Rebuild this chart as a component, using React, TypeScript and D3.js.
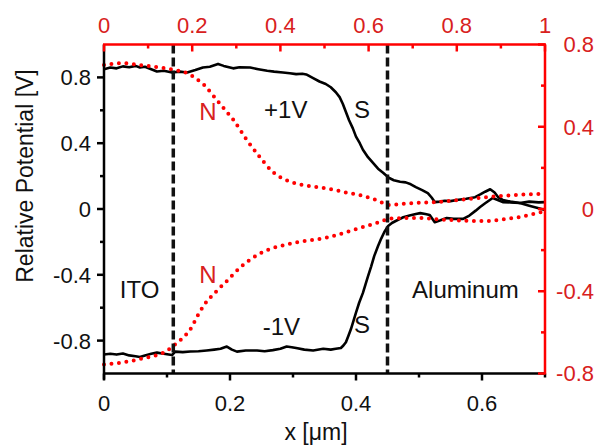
import React from "react";
import * as d3 from "d3";

// ---- data ----
const plusOneV: [number, number][] = [
  [0, 0.85], [0.01, 0.86], [0.02, 0.855], [0.03, 0.867], [0.04, 0.862], [0.05, 0.87], [0.057, 0.86],
  [0.065, 0.865], [0.075, 0.85], [0.084, 0.836], [0.095, 0.84], [0.108, 0.83], [0.12, 0.835], [0.132, 0.83],
  [0.145, 0.845], [0.157, 0.86], [0.168, 0.865], [0.181, 0.882], [0.19, 0.87], [0.205, 0.855], [0.215, 0.862],
  [0.232, 0.86], [0.245, 0.85], [0.259, 0.84], [0.27, 0.835], [0.284, 0.83], [0.295, 0.825], [0.305, 0.82],
  [0.315, 0.822], [0.321, 0.818], [0.332, 0.795], [0.342, 0.775], [0.352, 0.76], [0.36, 0.74], [0.368, 0.71],
  [0.374, 0.68], [0.379, 0.64], [0.384, 0.59], [0.389, 0.54], [0.395, 0.49], [0.4, 0.44], [0.406, 0.4],
  [0.411, 0.36], [0.419, 0.315], [0.427, 0.28], [0.435, 0.245], [0.443, 0.22], [0.452, 0.19], [0.46, 0.175],
  [0.47, 0.166], [0.479, 0.162], [0.487, 0.15], [0.495, 0.133], [0.505, 0.115], [0.514, 0.097], [0.52, 0.07],
  [0.525, 0.042], [0.533, 0.045], [0.541, 0.05], [0.55, 0.048], [0.56, 0.055], [0.575, 0.062], [0.589, 0.072],
  [0.598, 0.09], [0.605, 0.105], [0.613, 0.12], [0.62, 0.1], [0.626, 0.07], [0.633, 0.055], [0.645, 0.045],
  [0.66, 0.036], [0.675, 0.045], [0.69, 0.04], [0.7, 0.042],
];

const minusOneV: [number, number][] = [
  [0, -0.885], [0.01, -0.88], [0.02, -0.885], [0.03, -0.878], [0.04, -0.89], [0.05, -0.895], [0.057, -0.9],
  [0.065, -0.89], [0.075, -0.88], [0.084, -0.873], [0.095, -0.88], [0.108, -0.888], [0.113, -0.867],
  [0.125, -0.87], [0.137, -0.866], [0.15, -0.865], [0.163, -0.86], [0.175, -0.855], [0.185, -0.85],
  [0.195, -0.836], [0.203, -0.855], [0.211, -0.867], [0.225, -0.86], [0.243, -0.86], [0.255, -0.865],
  [0.268, -0.858], [0.28, -0.85], [0.29, -0.836], [0.298, -0.84], [0.305, -0.845], [0.318, -0.855],
  [0.332, -0.86], [0.348, -0.85], [0.36, -0.855], [0.368, -0.85], [0.376, -0.845], [0.38, -0.83],
  [0.384, -0.81], [0.388, -0.77], [0.392, -0.73], [0.396, -0.68], [0.4, -0.63], [0.405, -0.57], [0.411, -0.51],
  [0.415, -0.46], [0.419, -0.41], [0.424, -0.35], [0.429, -0.285], [0.435, -0.225], [0.44, -0.18],
  [0.445, -0.14], [0.451, -0.103], [0.457, -0.085], [0.463, -0.073], [0.47, -0.06], [0.475, -0.05],
  [0.485, -0.04], [0.495, -0.03], [0.502, -0.025], [0.51, -0.03], [0.517, -0.036], [0.525, -0.08],
  [0.533, -0.07], [0.544, -0.055], [0.555, -0.06], [0.57, -0.06], [0.58, -0.04], [0.59, -0.01], [0.597, 0.012],
  [0.605, 0.035], [0.617, 0.067], [0.625, 0.055], [0.633, 0.042], [0.645, 0.04], [0.66, 0.036], [0.675, 0.02],
  [0.69, 0.005], [0.7, -0.006],
];

const nPlus: [number, number][] = [
  [0, 0.7], [0.03, 0.71], [0.057, 0.7], [0.084, 0.69], [0.11, 0.677], [0.132, 0.66], [0.148, 0.63], [0.16, 0.6],
  [0.171, 0.56], [0.179, 0.53], [0.19, 0.49], [0.205, 0.435], [0.227, 0.334], [0.248, 0.25], [0.268, 0.18],
  [0.29, 0.14], [0.306, 0.123], [0.33, 0.11], [0.357, 0.098], [0.385, 0.08], [0.411, 0.064], [0.435, 0.04],
  [0.452, 0.02], [0.475, 0.025], [0.502, 0.031], [0.529, 0.034], [0.555, 0.042], [0.581, 0.049],
  [0.607, 0.057], [0.633, 0.064], [0.665, 0.07], [0.7, 0.074],
];

const nMinus: [number, number][] = [
  [0, -0.756], [0.03, -0.746], [0.057, -0.73], [0.084, -0.71], [0.1, -0.69], [0.108, -0.67], [0.124, -0.63],
  [0.137, -0.585], [0.152, -0.5], [0.163, -0.45], [0.173, -0.417], [0.185, -0.38], [0.195, -0.35],
  [0.216, -0.285], [0.237, -0.236], [0.259, -0.2], [0.284, -0.177], [0.306, -0.162], [0.332, -0.15],
  [0.357, -0.137], [0.384, -0.113], [0.411, -0.088], [0.437, -0.064], [0.454, -0.046], [0.48, -0.044],
  [0.502, -0.044], [0.528, -0.05], [0.554, -0.054], [0.58, -0.058], [0.608, -0.059], [0.635, -0.05],
  [0.66, -0.039], [0.68, -0.025], [0.7, -0.01],
];

const interfaces = [0.11, 0.45];

const bottomTicks = [0, 0.2, 0.4, 0.6];
const bottomMinor = [0.1, 0.3, 0.5, 0.7];
const topTicks = [0, 0.2, 0.4, 0.6, 0.8, 1];
const topMinor = [0.1, 0.3, 0.5, 0.7, 0.9];
const leftTicks = [0.8, 0.4, 0, -0.4, -0.8];
const leftMinor = [0.6, 0.2, -0.2, -0.6];
const rightTicks = [0.8, 0.4, 0, -0.4, -0.8];
const rightMinor = [0.6, 0.2, -0.2, -0.6];

const fmt = (v: number) => (v === 0 ? "0" : String(v));

export default function App() {
  const W = 596, H = 446;
  const L = 104, R = 545, T = 44.5, B = 373.5;
  const x = d3.scaleLinear().domain([0, 0.7]).range([L, R]);
  const xTop = d3.scaleLinear().domain([0, 1]).range([L, R]);
  const yL = d3.scaleLinear().domain([-1, 1]).range([B, T]);
  const yR = d3.scaleLinear().domain([-0.8, 0.8]).range([B, T]);

  const blackLine = d3.line<[number, number]>().x((d) => x(d[0])).y((d) => yL(d[1]));
  const redLine = d3
    .line<[number, number]>()
    .x((d) => x(d[0]))
    .y((d) => yR(d[1]))
    .curve(d3.curveMonotoneX);

  const font = "'Liberation Sans', Arial, sans-serif";
  const red = "#ff0000";
  const redText = "#d82020";
  const tickFs = 22;
  const annFs = 24;
  const aw = 2.5;

  return (
    <svg
      width={W}
      height={H}
      style={{ position: "absolute", left: 0, top: 0, background: "#fff" }}
      fontFamily={font}
    >
      {/* data lines */}
      <path d={blackLine(plusOneV) || ""} fill="none" stroke="#000" strokeWidth={2.6} strokeLinejoin="round" />
      <path d={blackLine(minusOneV) || ""} fill="none" stroke="#000" strokeWidth={2.6} strokeLinejoin="round" />
      <path d={redLine(nPlus) || ""} fill="none" stroke={red} strokeWidth={4} strokeLinecap="round" strokeDasharray="0 7.5" />
      <path d={redLine(nMinus) || ""} fill="none" stroke={red} strokeWidth={4} strokeLinecap="round" strokeDasharray="0 7.5" />

      {/* interfaces */}
      {interfaces.map((v) => (
        <line key={v} x1={x(v)} x2={x(v)} y1={T} y2={B} stroke="#111" strokeWidth={3.5} strokeDasharray="9 4" />
      ))}

      {/* left axis (black, outward ticks) */}
      <line x1={L} x2={L} y1={T} y2={B + 6} stroke="#000" strokeWidth={aw} />
      {leftTicks.map((v) => (
        <g key={"l" + v}>
          <line x1={L - 7} x2={L} y1={yL(v)} y2={yL(v)} stroke="#000" strokeWidth={aw} />
          <text x={91} y={yL(v)} dy="0.36em" textAnchor="end" fontSize={tickFs} fill="#111">{fmt(v)}</text>
        </g>
      ))}
      {leftMinor.map((v) => (
        <line key={"lm" + v} x1={L - 4} x2={L} y1={yL(v)} y2={yL(v)} stroke="#000" strokeWidth={aw} />
      ))}

      {/* bottom axis (black, outward ticks) */}
      <line x1={L - 1} x2={R} y1={B} y2={B} stroke="#000" strokeWidth={aw} />
      {bottomTicks.map((v) => (
        <g key={"b" + v}>
          <line x1={x(v)} x2={x(v)} y1={B} y2={B + 7} stroke="#000" strokeWidth={aw} />
          <text x={x(v)} y={411} textAnchor="middle" fontSize={tickFs} fill="#111">{fmt(v)}</text>
        </g>
      ))}
      {bottomMinor.map((v) => (
        <line key={"bm" + v} x1={x(v)} x2={x(v)} y1={B} y2={B + 4} stroke="#000" strokeWidth={aw} />
      ))}

      {/* top axis (red, inward ticks) */}
      <line x1={L - 1} x2={R + 1} y1={T} y2={T} stroke={red} strokeWidth={aw} />
      {topTicks.map((v) => (
        <g key={"t" + v}>
          <line x1={xTop(v)} x2={xTop(v)} y1={T} y2={T + 7} stroke={red} strokeWidth={aw} />
          <text x={xTop(v)} y={33} textAnchor="middle" fontSize={tickFs} fill={redText}>{fmt(v)}</text>
        </g>
      ))}
      {topMinor.map((v) => (
        <line key={"tm" + v} x1={xTop(v)} x2={xTop(v)} y1={T} y2={T + 4} stroke={red} strokeWidth={aw} />
      ))}

      {/* right axis (red, inward ticks) */}
      <line x1={R} x2={R} y1={T} y2={B + 1} stroke={red} strokeWidth={aw} />
      {rightTicks.map((v) => (
        <g key={"r" + v}>
          <line x1={R - 7} x2={R} y1={yR(v)} y2={yR(v)} stroke={red} strokeWidth={aw} />
          <text x={594} y={yR(v)} dy="0.36em" textAnchor="end" fontSize={tickFs} fill={redText}>{fmt(v)}</text>
        </g>
      ))}
      {rightMinor.map((v) => (
        <line key={"rm" + v} x1={R - 4} x2={R} y1={yR(v)} y2={yR(v)} stroke={red} strokeWidth={aw} />
      ))}

      {/* axis titles */}
      <text transform="translate(33,176) rotate(-90)" textAnchor="middle" fontSize={23} fill="#111">
        Relative Potential [V]
      </text>
      <text x={316} y={440} textAnchor="middle" fontSize={23} fill="#111">x [μm]</text>

      {/* annotations */}
      <text x={x(0.254)} y={yL(0.553)} fontSize={annFs} fill="#111">+1V</text>
      <text x={x(0.397)} y={yL(0.553)} fontSize={annFs} fill="#111">S</text>
      <text x={x(0.151)} y={yL(0.541)} fontSize={annFs} fill={redText}>N</text>
      <text x={x(0.025)} y={yL(-0.541)} fontSize={annFs} fill="#111">ITO</text>
      <text x={x(0.151)} y={yL(-0.45)} fontSize={annFs} fill={redText}>N</text>
      <text x={x(0.252)} y={yL(-0.766)} fontSize={annFs} fill="#111">-1V</text>
      <text x={x(0.397)} y={yL(-0.754)} fontSize={annFs} fill="#111">S</text>
      <text x={x(0.489)} y={yL(-0.541)} fontSize={annFs} fill="#111">Aluminum</text>
    </svg>
  );
}
